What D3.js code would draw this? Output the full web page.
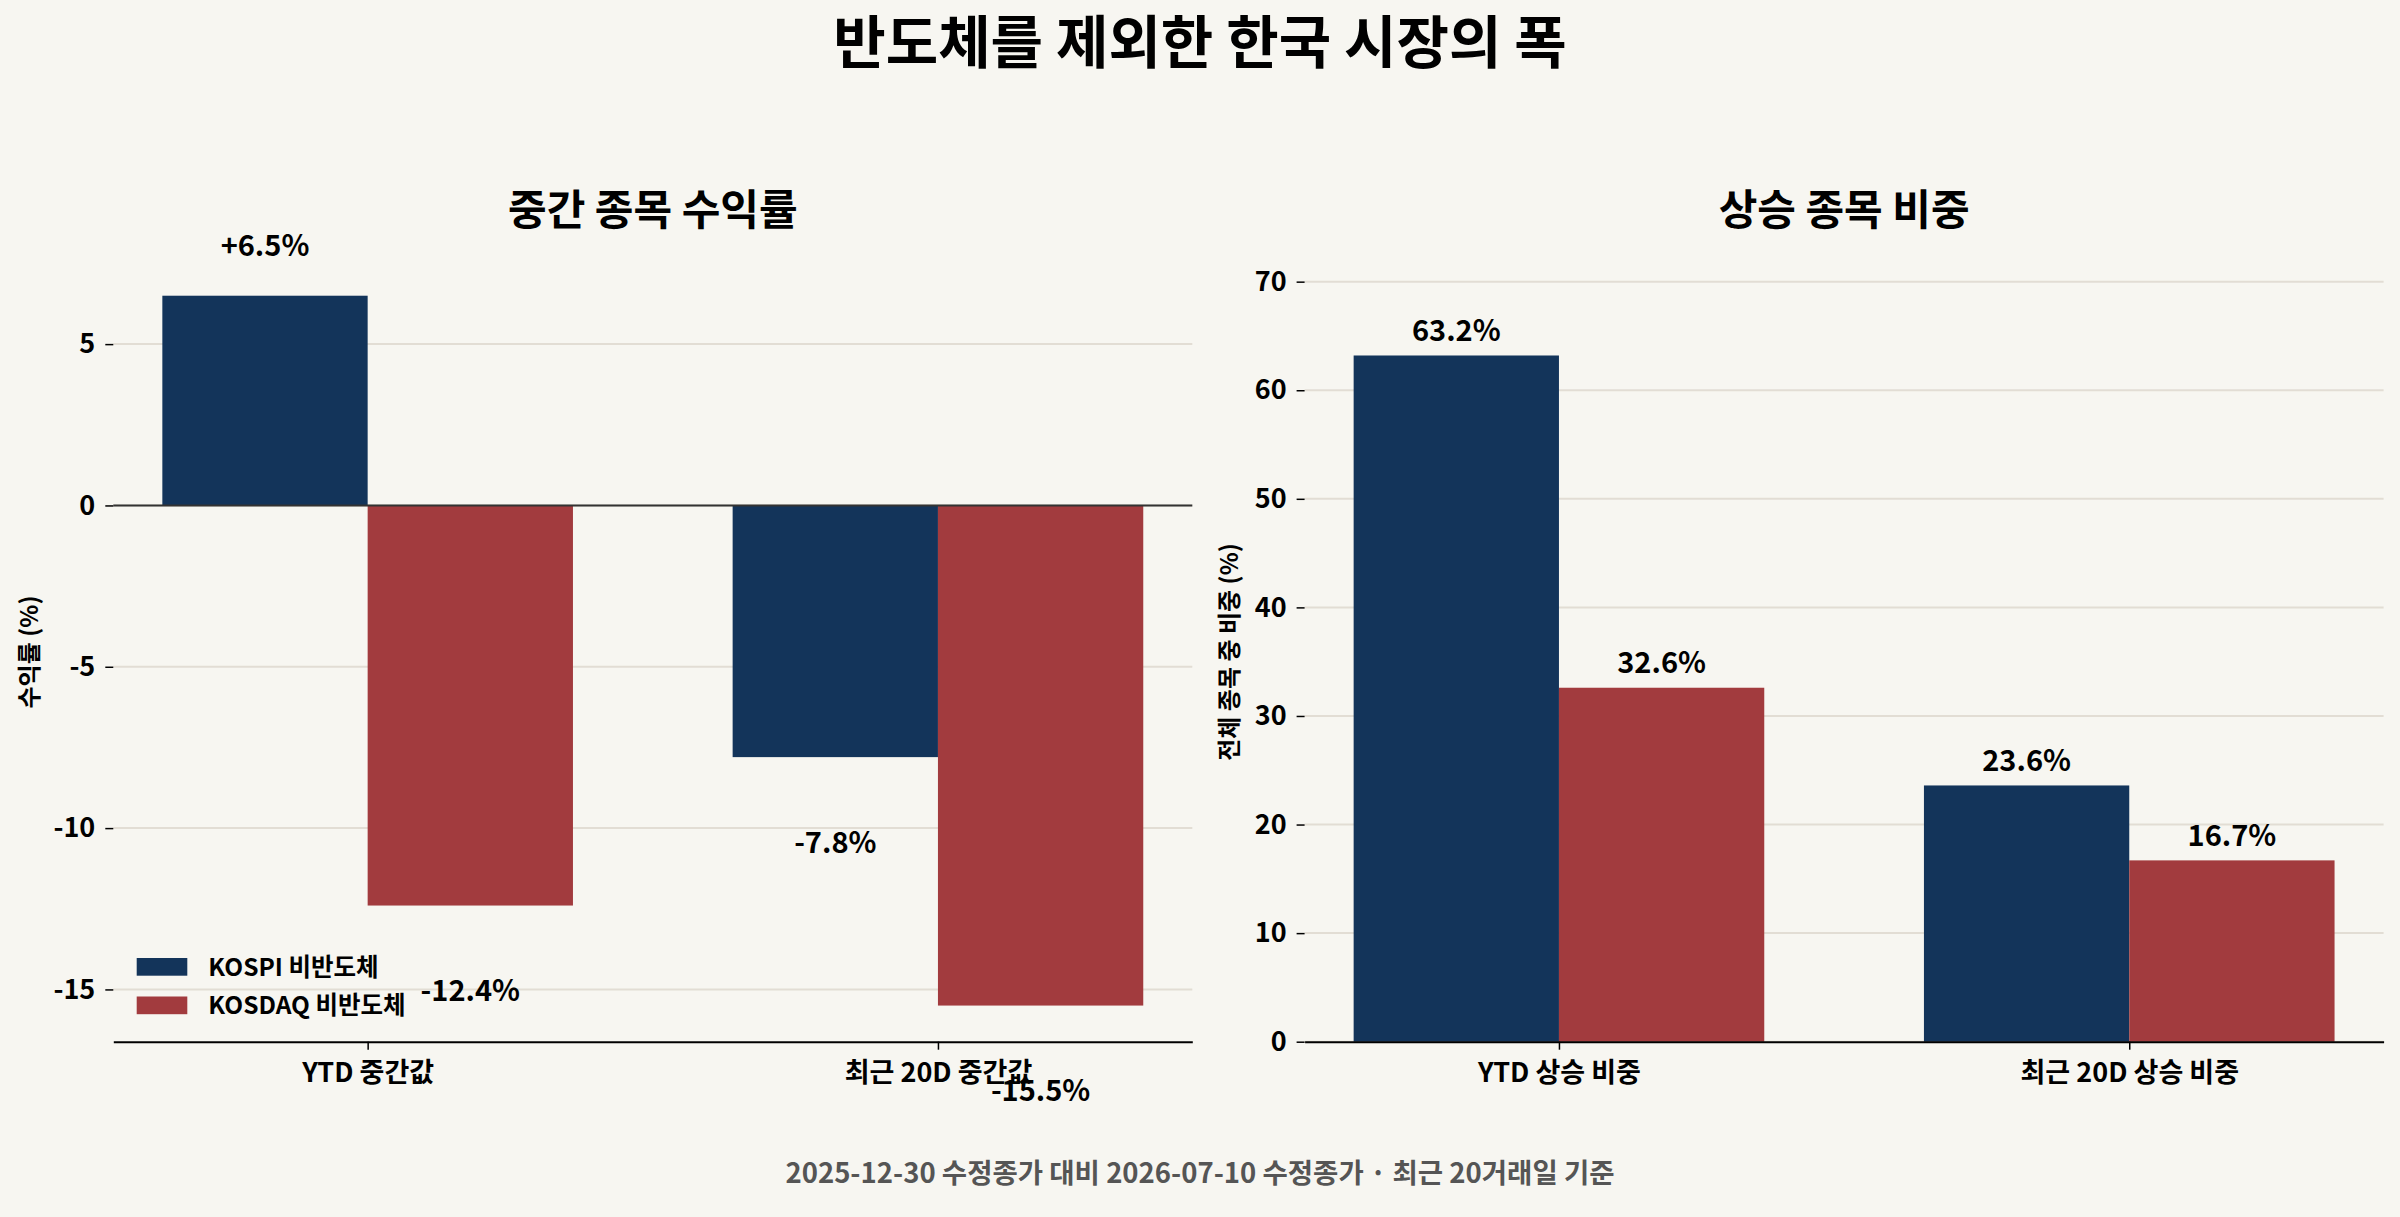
<!DOCTYPE html>
<html>
<head>
<meta charset="utf-8">
<script src="https://cdn.jsdelivr.net/npm/d3@7"></script>
<style>
  html, body { margin: 0; padding: 0; background: #f7f6f1; }
  text { font-family: "Noto Sans CJK KR", "Noto Sans", sans-serif; font-weight: bold; }
</style>
</head>
<body>
<div id="chart"></div>
<script>
// 데이터
var seriesNames = ["KOSPI 비반도체", "KOSDAQ 비반도체"];
var seriesColors = ["#13345a", "#a23b3e"];

var returnCategories = ["YTD 중간값", "최근 20D 중간값"];
var kospiReturn = [6.5, -7.8];
var kosdaqReturn = [-12.4, -15.5];
var returnTicks = [-15, -10, -5, 0, 5];

var breadthCategories = ["YTD 상승 비중", "최근 20D 상승 비중"];
var kospiBreadth = [63.2, 23.6];
var kosdaqBreadth = [32.6, 16.7];
var breadthTicks = [0, 10, 20, 30, 40, 50, 60, 70];

var width = 2400, height = 1217;
var plotTop = 232.8, plotBottom = 1041.7;
var barWidth = 0.36;

var svg = d3.select("#chart").append("svg")
    .attr("width", width)
    .attr("height", height);

svg.append("rect").attr("width", width).attr("height", height).attr("fill", "#f7f6f1");

// 제목
svg.append("text")
    .attr("x", 1200).attr("y", 63)
    .attr("text-anchor", "middle")
    .style("font-size", "57px")
    .attr("fill", "#000")
    .text("반도체를 제외한 한국 시장의 폭");

svg.append("text")
    .attr("x", 1200).attr("y", 1183)
    .attr("text-anchor", "middle")
    .style("font-size", "27.5px")
    .attr("fill", "#555")
    .text("2025-12-30 수정종가 대비 2026-07-10 수정종가 · 최근 20거래일 기준");

function drawPanel(opt) {
    var g = svg.append("g");

    var x = d3.scaleLinear().domain([-0.446, 1.446]).range([opt.x0, opt.x1]);
    var y = d3.scaleLinear().domain(opt.yDomain).range([plotBottom, plotTop]);

    // 그리드
    g.selectAll(".grid")
        .data(opt.ticks)
        .enter().append("line")
        .attr("x1", opt.x0).attr("x2", opt.x1)
        .attr("y1", function(d) { return y(d); })
        .attr("y2", function(d) { return y(d); })
        .attr("stroke", "#e2ddd4")
        .attr("stroke-width", 2);

    // 막대
    var rows = [];
    opt.categories.forEach(function(c, i) {
        opt.values.forEach(function(vals, s) {
            rows.push({ cat: i, s: s, v: vals[i] });
        });
    });

    g.selectAll(".bar")
        .data(rows)
        .enter().append("rect")
        .attr("x", function(d) { return x(d.s === 0 ? d.cat - barWidth : d.cat); })
        .attr("width", x(barWidth) - x(0))
        .attr("y", function(d) { return y(Math.max(0, d.v)); })
        .attr("height", function(d) { return Math.abs(y(d.v) - y(0)); })
        .attr("fill", function(d) { return seriesColors[d.s]; });

    if (opt.zeroLine) {
        g.append("line")
            .attr("x1", opt.x0).attr("x2", opt.x1)
            .attr("y1", y(0)).attr("y2", y(0))
            .attr("stroke", "#333")
            .attr("stroke-width", 2);
    }

    // 값 레이블
    g.selectAll(".val")
        .data(rows)
        .enter().append("text")
        .attr("x", function(d) { return x(d.cat + (d.s === 0 ? -barWidth / 2 : barWidth / 2)); })
        .attr("y", function(d) { return opt.labelY(y, d.v) + 29 * 0.36; })
        .attr("text-anchor", "middle")
        .style("font-size", "29px")
        .attr("fill", "#000")
        .text(function(d) { return opt.fmt(d.v); });

    // 축
    var yAxis = d3.axisLeft(y).tickValues(opt.ticks).tickSize(8).tickPadding(10)
        .tickFormat(function(d) { return d; });
    var ya = g.append("g").attr("transform", "translate(" + opt.x0 + ",0)").call(yAxis);
    ya.select(".domain").remove();
    ya.selectAll("line").attr("stroke", "#000").attr("stroke-width", 1.5);
    ya.selectAll("text").style("font-size", "27px").attr("fill", "#000")
        .text(function(d) { return d < 0 ? "-" + Math.abs(d) : d; });

    var xAxis = d3.axisBottom(x).tickValues([0, 1]).tickSize(8).tickSizeOuter(0).tickPadding(13)
        .tickFormat(function(i) { return opt.categories[i]; });
    var xa = g.append("g").attr("transform", "translate(0," + plotBottom + ")").call(xAxis);
    xa.select(".domain").attr("stroke", "#000").attr("stroke-width", 2);
    xa.selectAll("line").attr("stroke", "#000").attr("stroke-width", 1.5);
    xa.selectAll("text").style("font-size", "27px").attr("fill", "#000");

    // 부제목
    g.append("text")
        .attr("x", (opt.x0 + opt.x1) / 2).attr("y", 225)
        .attr("text-anchor", "middle")
        .style("font-size", "42px")
        .attr("fill", "#000")
        .text(opt.title);

    // y축 제목
    g.append("text")
        .attr("transform", "translate(" + opt.ylabelX + ",652) rotate(-90)")
        .attr("text-anchor", "middle")
        .attr("dy", "0.35em")
        .style("font-size", "24px")
        .attr("fill", "#000")
        .text(opt.ylabel);

    return g;
}

drawPanel({
    x0: 113.3, x1: 1192.3,
    yDomain: [-16.62, 8.45],
    ticks: returnTicks,
    categories: returnCategories,
    values: [kospiReturn, kosdaqReturn],
    zeroLine: true,
    labelY: function(y, v) { return v >= 0 ? y(v) - 50 : y(v) + 85; },
    fmt: function(v) { return (v >= 0 ? "+" : "-") + Math.abs(v).toFixed(1) + "%"; },
    title: "중간 종목 수익률",
    ylabel: "수익률 (%)",
    ylabelX: 30
});

drawPanel({
    x0: 1304.6, x1: 2383.6,
    yDomain: [0, 74.5],
    ticks: breadthTicks,
    categories: breadthCategories,
    values: [kospiBreadth, kosdaqBreadth],
    zeroLine: false,
    labelY: function(y, v) { return y(v) - 25; },
    fmt: function(v) { return v.toFixed(1) + "%"; },
    title: "상승 종목 비중",
    ylabel: "전체 종목 중 비중 (%)",
    ylabelX: 1230
});

// 범례
var legend = svg.append("g").attr("transform", "translate(136.7,958)");
seriesNames.forEach(function(name, i) {
    legend.append("rect")
        .attr("x", 0).attr("y", i * 38.5)
        .attr("width", 50.6).attr("height", 17.7)
        .attr("fill", seriesColors[i]);
    legend.append("text")
        .attr("x", 71.5).attr("y", i * 38.5 + 8.85 + 24 * 0.36)
        .style("font-size", "24.5px")
        .attr("fill", "#000")
        .text(name);
});
</script>
</body>
</html>
